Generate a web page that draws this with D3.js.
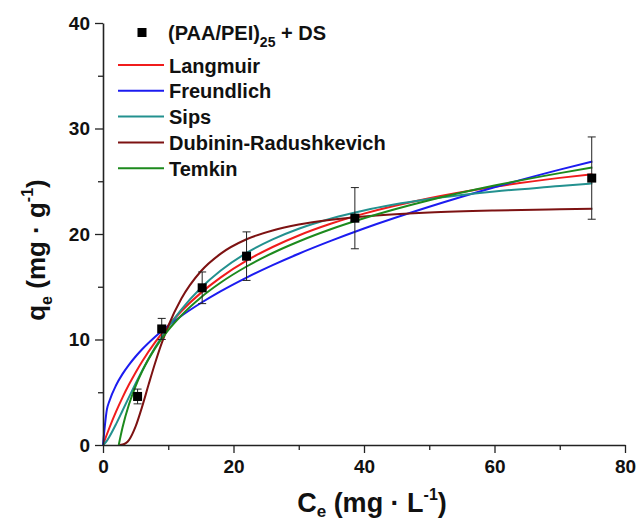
<!DOCTYPE html>
<html>
<head>
<meta charset="utf-8">
<script src="https://cdn.jsdelivr.net/npm/d3@7"></script>
<style>
  body { margin: 0; background: #fff; }
  svg text { font-family: "Liberation Sans", Arial, sans-serif; font-weight: bold; }
</style>
</head>
<body>
<svg id="chart" width="637" height="524"></svg>
<script>
// measured points with error bars
const ceData = [5.3, 9.0, 15.2, 22.0, 38.6, 74.9];
const qeData = [4.6, 11.0, 14.9, 17.9, 21.5, 25.3];
const qeErr = [0.7, 1.0, 1.5, 2.3, 2.9, 3.9];

// fitted curves
const langmuirCe = [0, 0.5, 1, 2, 3, 4, 5, 6, 8, 10, 12, 15, 18, 22, 26, 30, 35, 40, 50, 60, 70, 75];
const langmuirQe = [0, 0.85, 1.66, 3.16, 4.52, 5.75, 6.88, 7.92, 9.75, 11.32, 12.68, 14.42, 15.87, 17.47, 18.77, 19.86, 20.99, 21.93, 23.39, 24.48, 25.32, 25.67];

const freundlichCe = [0, 0.6, 1, 2, 3, 4, 5, 6, 8, 10, 12, 15, 18, 22, 26, 30, 35, 40, 50, 60, 70, 75];
const freundlichQe = [0, 3.37, 4.2, 5.66, 6.74, 7.62, 8.39, 9.08, 10.27, 11.31, 12.23, 13.46, 14.56, 15.87, 17.05, 18.13, 19.37, 20.52, 22.58, 24.43, 26.10, 26.88];

const sipsCe = [0, 0.5, 1, 2, 3, 4, 5, 6, 8, 10, 12, 15, 18, 22, 26, 30, 35, 40, 50, 60, 70, 75];
const sipsQe = [0, 0.32, 0.81, 1.98, 3.27, 4.56, 5.83, 7.05, 9.26, 11.19, 12.84, 14.88, 16.51, 18.21, 19.49, 20.50, 21.47, 22.23, 23.31, 24.03, 24.54, 24.80];

const drCe = [2.5, 3, 3.5, 4, 5, 6, 7, 8, 9, 10, 12, 15, 18, 22, 26, 30, 35, 40, 50, 60, 70, 75];
const drQe = [0, 0.04, 0.18, 0.49, 1.76, 3.64, 5.75, 7.80, 9.66, 11.28, 13.86, 16.47, 18.12, 19.50, 20.34, 20.90, 21.35, 21.66, 22.03, 22.23, 22.35, 22.40];

const temkinCe = [2.41, 3, 4, 5, 6, 8, 10, 12, 15, 18, 22, 26, 30, 35, 40, 50, 60, 70, 75];
const temkinQe = [0, 1.68, 3.88, 5.59, 6.98, 9.18, 10.89, 12.28, 13.99, 15.38, 16.92, 18.20, 19.29, 20.47, 21.49, 23.20, 24.59, 25.77, 26.30];

const fitNames = ["Langmuir", "Freundlich", "Sips", "Dubinin-Radushkevich", "Temkin"];
const fitColors = ["#f01c1c", "#1c1cf0", "#23918f", "#7d1212", "#1d8a1d"];

const xTicks = [0, 20, 40, 60, 80];
const xMinor = [10, 30, 50, 70];
const yTicks = [0, 10, 20, 30, 40];
const yMinor = [5, 15, 25, 35];

const svg = d3.select('#chart');
const plotLeft = 103, plotRight = 625, plotTop = 23, plotBottom = 445;

const x = d3.scaleLinear().domain([0, 80]).range([plotLeft, plotRight]);
const y = d3.scaleLinear().domain([0, 40]).range([plotBottom, plotTop]);

// curves
const fits = [
  [langmuirCe, langmuirQe],
  [freundlichCe, freundlichQe],
  [sipsCe, sipsQe],
  [drCe, drQe],
  [temkinCe, temkinQe]
];
const line = d3.line()
  .x(d => x(d[0]))
  .y(d => y(d[1]))
  .curve(d3.curveMonotoneX);

fits.forEach((f, i) => {
  const pts = f[0].map((c, j) => [c, f[1][j]]);
  svg.append('path')
    .attr('d', line(pts))
    .attr('fill', 'none')
    .attr('stroke', fitColors[i])
    .attr('stroke-width', 2);
});

// error bars + squares
const pts = ceData.map((c, i) => ({ c, q: qeData[i], e: qeErr[i] }));
const eb = svg.append('g').attr('stroke', '#222').attr('stroke-width', 1);
pts.forEach(d => {
  eb.append('line').attr('x1', x(d.c)).attr('x2', x(d.c)).attr('y1', y(d.q - d.e)).attr('y2', y(d.q + d.e));
  eb.append('line').attr('x1', x(d.c) - 4).attr('x2', x(d.c) + 4).attr('y1', y(d.q - d.e)).attr('y2', y(d.q - d.e));
  eb.append('line').attr('x1', x(d.c) - 4).attr('x2', x(d.c) + 4).attr('y1', y(d.q + d.e)).attr('y2', y(d.q + d.e));
});
svg.selectAll('.pt')
  .data(pts)
  .enter().append('rect')
  .attr('class', 'pt')
  .attr('x', d => x(d.c) - 4.5)
  .attr('y', d => y(d.q) - 4.5)
  .attr('width', 9)
  .attr('height', 9)
  .attr('fill', '#000');

// axes
svg.append('g')
  .attr('transform', `translate(0, ${plotBottom})`)
  .call(d3.axisBottom(x).tickValues(xTicks).tickSize(8).tickSizeOuter(0).tickPadding(7));
svg.append('g')
  .attr('transform', `translate(0, ${plotBottom})`)
  .call(d3.axisBottom(x).tickValues(xMinor).tickSize(5).tickFormat(''))
  .select('.domain').remove();
svg.append('g')
  .attr('transform', `translate(${plotLeft}, 0)`)
  .call(d3.axisLeft(y).tickValues(yTicks).tickSize(8).tickSizeOuter(0).tickPadding(5));
svg.append('g')
  .attr('transform', `translate(${plotLeft}, 0)`)
  .call(d3.axisLeft(y).tickValues(yMinor).tickSize(5).tickFormat(''))
  .select('.domain').remove();

svg.selectAll('.domain').attr('stroke', '#222').attr('stroke-width', 1.6);
svg.selectAll('.tick line').attr('stroke', '#222').attr('stroke-width', 1.3);
svg.selectAll('.tick text')
  .style('font-family', '"Liberation Sans", Arial, sans-serif')
  .style('font-weight', 'bold')
  .style('font-size', '19px')
  .attr('fill', '#111');

// axis titles
const xt = svg.append('text')
  .attr('x', 372).attr('y', 512)
  .attr('text-anchor', 'middle')
  .style('font-size', '27px')
  .attr('fill', '#111');
xt.append('tspan').text('C');
xt.append('tspan').attr('dy', 5).style('font-size', '17px').text('e');
xt.append('tspan').attr('dy', -5).text(' (mg · L');
xt.append('tspan').attr('dy', -12).style('font-size', '16px').text('-1');
xt.append('tspan').attr('dy', 12).text(')');

const yt = svg.append('text')
  .attr('transform', 'translate(45, 250) rotate(-90)')
  .attr('text-anchor', 'middle')
  .style('font-size', '26px')
  .attr('fill', '#111');
yt.append('tspan').text('q');
yt.append('tspan').attr('dy', 7).style('font-size', '16px').text('e');
yt.append('tspan').attr('dy', -7).text(' (mg · g');
yt.append('tspan').attr('dy', -12).style('font-size', '16px').text('-1');
yt.append('tspan').attr('dy', 12).text(')');

// legend
const lg = svg.append('g').style('font-size', '20px').attr('fill', '#111');
lg.append('rect').attr('x', 137.5).attr('y', 28).attr('width', 9).attr('height', 9).attr('fill', '#000');
const lt = lg.append('text').attr('x', 168).attr('y', 40);
lt.append('tspan').text('(PAA/PEI)');
lt.append('tspan').attr('dy', 7).style('font-size', '14px').text('25');
lt.append('tspan').attr('dy', -7).text(' + DS');

fitNames.forEach((n, i) => {
  const ly = 65 + i * 25.8;
  lg.append('line').attr('x1', 118).attr('x2', 164).attr('y1', ly).attr('y2', ly)
    .attr('stroke', fitColors[i]).attr('stroke-width', 2);
  lg.append('text').attr('x', 169).attr('y', ly + 7.5).text(n);
});
</script>
</body>
</html>
